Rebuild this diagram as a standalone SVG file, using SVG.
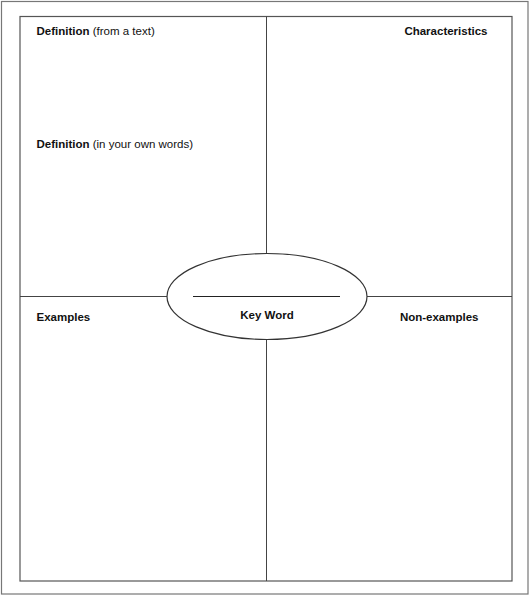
<svg xmlns="http://www.w3.org/2000/svg" width="530" height="598" viewBox="0 0 530 598">
<style>
.t{font-family:"Liberation Sans",Arial,sans-serif;font-size:11.5px;fill:#111}
.b{font-weight:bold}
.ln{stroke:#444;stroke-width:1;fill:none}
</style>
<rect x="0" y="0" width="530" height="598" fill="#fff"/>
<g id="frame">
<rect x="1.5" y="1.5" width="526.5" height="592.5" fill="none" stroke="#777" stroke-width="1.2"/>
<rect x="20" y="16.5" width="492" height="564.5" fill="none" stroke="#555" stroke-width="1.2"/>
</g>
<g id="connectors">
<line class="ln" x1="266.5" y1="16.5" x2="266.5" y2="581"/>
<line class="ln" x1="20" y1="296.5" x2="512" y2="296.5"/>
</g>
<g id="keyword">
<ellipse cx="267" cy="296.5" rx="100" ry="43" fill="#fff" stroke="#333" stroke-width="1.2"/>
<line x1="193" y1="296.5" x2="340" y2="296.5" stroke="#222" stroke-width="1.2"/>
<text class="t b" x="267" y="318.5" text-anchor="middle">Key Word</text>
</g>
<g id="definition-text">
<text class="t" x="36.5" y="35"><tspan class="b">Definition</tspan> (from a text)</text>
</g>
<g id="definition-own">
<text class="t" x="36.5" y="148"><tspan class="b">Definition</tspan> (in your own words)</text>
</g>
<g id="characteristics">
<text class="t b" x="487.5" y="35" text-anchor="end">Characteristics</text>
</g>
<g id="examples">
<text class="t b" x="36.5" y="321">Examples</text>
</g>
<g id="non-examples">
<text class="t b" x="478.5" y="321" text-anchor="end">Non-examples</text>
</g>
</svg>
